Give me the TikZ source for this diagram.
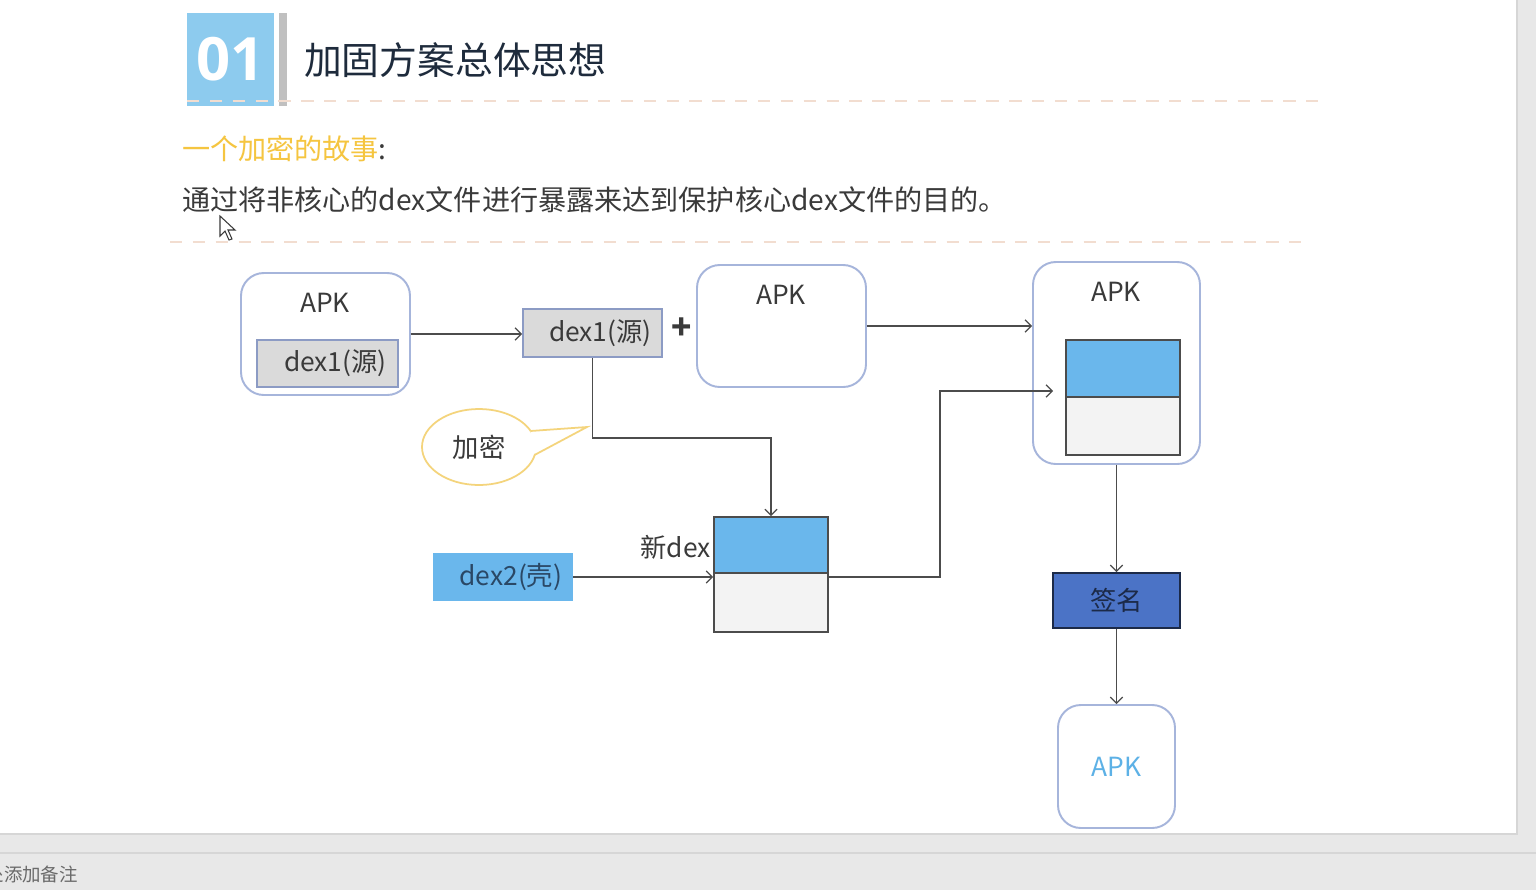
\documentclass[tikz,border=0pt]{standalone}
\usepackage{fontspec}
\setmainfont{Noto Sans CJK SC}
\newfontfamily\numfont{Open Sans}
\usetikzlibrary{shapes.geometric,arrows.meta}

\definecolor{pagegray}{HTML}{E8E8E8}
\definecolor{edgegray}{HTML}{D6D6D6}
\definecolor{notegray}{HTML}{6A6A6A}
\definecolor{titleblue}{HTML}{8DCBEE}
\definecolor{bargray}{HTML}{C0C0C0}
\definecolor{titlenavy}{HTML}{1E2B3C}
\definecolor{sepline}{HTML}{F2DDD0}
\definecolor{storyyellow}{HTML}{F5C540}
\definecolor{textgray}{HTML}{3A3A3A}
\definecolor{boxline}{HTML}{A6B5DB}
\definecolor{dexgray}{HTML}{DADADA}
\definecolor{dexline}{HTML}{8C9BC4}
\definecolor{blockblue}{HTML}{6AB7EC}
\definecolor{blocklight}{HTML}{F3F3F3}
\definecolor{shelltext}{HTML}{2A4866}
\definecolor{signblue}{HTML}{4B73C6}
\definecolor{signtext}{HTML}{1C2A48}
\definecolor{bubbleline}{HTML}{F4D47C}
\definecolor{apkblue}{HTML}{5DB1E6}

\newcommand{\pw}{0.02cm}

\tikzset{
  apkbox/.style={draw=boxline,line width=1.1pt,rounded corners=13pt,fill=white},
  dexbox/.style={draw=dexline,fill=dexgray,line width=1pt,text=textgray},
  block/.style={draw=black!70,line width=0.9pt,minimum width=114*\pw},
  link/.style={->,draw=black!70,line width=0.7pt},
  sepdash/.style={draw=sepline,line width=1pt,dash pattern=on 7pt off 6pt}
}

\begin{document}
\begin{tikzpicture}[x=0.02cm,y=-0.02cm,font=\fontsize{15pt}{18pt}\selectfont,>={Straight Barb[length=3.5pt,width=7pt]},text=textgray]
  \useasboundingbox (0,0) rectangle (1536,890);
  % slide and status bar
  \fill[pagegray] (0,0) rectangle (1536,890);
  \fill[white] (0,0) rectangle (1517,834);
  \draw[edgegray,line width=1pt] (0,834) -- (1517,834) -- (1517,0);
  \draw[edgegray,line width=1.2pt] (0,853) -- (1536,853);
  \node[anchor=east,text=notegray,font=\fontsize{10.5pt}{12pt}\selectfont] (note) at (84,874) {单击此处添加备注};

  % heading
  \node[fill=titleblue,minimum width=87*\pw,minimum height=93*\pw,text=white,font=\numfont\bfseries\fontsize{34pt}{36pt}\selectfont] (num) at (230.5,59.5) {01};
  \fill[bargray] (279,13) rectangle (287,106);
  \node[anchor=west,text=titlenavy,font=\fontsize{21.5pt}{24pt}\selectfont] (title) at (298,60) {加固方案总体思想};
  \draw[sepdash] (187,101) -- (1325,101);
  \node[anchor=west,text=storyyellow,font=\fontsize{16pt}{19pt}\selectfont] (story) at (176,149) {一个加密的故事\textcolor{textgray}{:}};
  \node[anchor=west,font=\fontsize{16pt}{19pt}\selectfont] (intro) at (176,200) {通过将非核心的dex文件进行暴露来达到保护核心dex文件的目的。};
  \draw[sepdash] (170,242) -- (1310,242);
  \filldraw[fill=white,draw=textgray,line width=0.6pt] (220,216) -- (220,236) -- (225,231) -- (229,240) -- (232,239) -- (228,230) -- (235,230) -- cycle;

  % source apk
  \node[apkbox,minimum width=169*\pw,minimum height=122*\pw] (apkA) at (325.5,334) {};
  \node (apkAt) at (325,303) {APK};
  \node[dexbox,minimum width=141*\pw,minimum height=47*\pw] (dexA) at (327.5,363.5) {\hspace{9pt}dex1(源)};

  % dex1 + empty apk
  \node[dexbox,minimum width=139*\pw,minimum height=48*\pw] (dexB) at (592.5,333) {\hspace{9pt}dex1(源)};
  \node[font=\bfseries\fontsize{19pt}{20pt}\selectfont] (plus) at (682,329) {+};
  \node[apkbox,minimum width=169*\pw,minimum height=122*\pw] (apkB) at (781.5,326) {};
  \node (apkBt) at (781,295) {APK};

  % encrypt bubble
  \node[ellipse,draw=bubbleline,fill=white,line width=1pt,minimum width=114*\pw,minimum height=76*\pw] (enc) at (479,447) {加密};
  \filldraw[draw=bubbleline,fill=white,line width=1pt] (530.5,431) -- (587,427) -- (534.5,455);

  % new dex
  \node[block,fill=blockblue,minimum height=56*\pw] (newTop) at (771,545) {};
  \node[block,fill=blocklight,minimum height=59*\pw] (newBot) at (771,602.5) {};
  \node[anchor=east] (newt) at (717,547) {新dex};
  \node[fill=blockblue,text=shelltext,minimum width=140*\pw,minimum height=48*\pw] (shell) at (503,577) {\hspace{9pt}dex2(壳)};

  % packed apk
  \node[apkbox,minimum width=167*\pw,minimum height=202*\pw] (apkC) at (1116.5,363) {};
  \node (apkCt) at (1116,292) {APK};
  \node[block,fill=blockblue,minimum height=57*\pw] (packTop) at (1123,368.5) {};
  \node[block,fill=blocklight,minimum height=58*\pw] (packBot) at (1123,426) {};
  \coordinate (packIn) at (1053,391);

  % sign and result
  \node[draw=signtext,line width=1pt,fill=signblue,text=signtext,minimum width=127*\pw,minimum height=55*\pw] (sign) at (1116.5,600.5) {签名};
  \node[apkbox,text=apkblue,minimum width=117*\pw,minimum height=123*\pw] (apkD) at (1116.5,766.5) {APK};

  % links
  \draw[link] (apkA.east) -- (apkA.east -| dexB.west);
  \draw[link] (apkB.east) -- (apkB.east -| apkC.west);
  \draw[link] (dexB.south) -- ++(0,80) -| (newTop.north);
  \draw[link] (shell.east) -- (shell.east -| newBot.west);
  \draw[link] (shell.east -| newBot.east) -- (940,577) |- (packIn);
  \draw[link] (apkC.south) -- (sign.north);
  \draw[link] (sign.south) -- (apkD.north);
\end{tikzpicture}
\end{document}
